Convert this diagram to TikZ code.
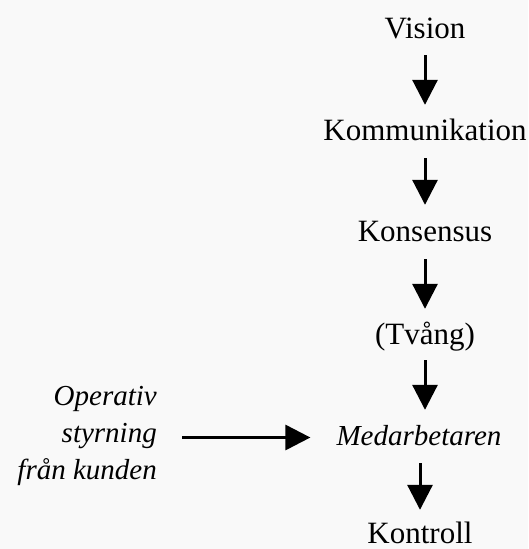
\documentclass[tikz,border=0pt]{standalone}
\usepackage{fontspec}
\setmainfont{Liberation Serif}
\usetikzlibrary{arrows.meta}
\definecolor{bgpaper}{RGB}{249,249,249}
\tikzset{
  lbl/.style={inner sep=0pt, text height=22pt, text depth=7pt, font=\fontsize{31}{31}\selectfont},
  ilbl/.style={lbl, font=\fontsize{29}{29}\selectfont\itshape},
  arr/.style={line width=3pt, -{Triangle[length=25pt,width=25pt]}},
}
\begin{document}
\begin{tikzpicture}[x=1pt,y=-1pt]
\fill[bgpaper] (0,0) rectangle (528,549);
\useasboundingbox (0,0) rectangle (528,549);
\node[lbl, anchor=base] (vis) at (425,38) {Vision};
\node[lbl, anchor=base] (kom) at (425,140) {Kommunikation};
\node[lbl, anchor=base] (kons) at (425,241) {Konsensus};
\node[lbl, anchor=base] (tv) at (425,344) {(Tvång)};
\node[ilbl, anchor=base] (med) at (419,445) {Medarbetaren};
\node[lbl, text depth=0pt, anchor=base] (kon) at (420,543) {Kontroll};
\node[font=\fontsize{29}{37}\selectfont\itshape, align=right, inner sep=0pt, anchor=base east] (op) at (157,479) {Operativ\\styrning\\från kunden};
\draw[arr, shorten <=10pt, shorten >=13pt] (vis.south) -- (kom.north);
\draw[arr, shorten <=11pt, shorten >=14pt] (kom.south) -- (kons.north);
\draw[arr, shorten <=11pt, shorten >=13pt] (kons.south) -- (tv.north);
\draw[arr, shorten <=9pt, shorten >=13pt] (tv.south) -- (med.north -| tv.south);
\draw[arr, shorten <=11pt, shorten >=11pt] (med.south -| kon.north) -- (kon.north);
\draw[arr, shorten <=25pt, shorten >=26pt] (op.east |- med.west) -- (med.west);
\end{tikzpicture}
\end{document}
